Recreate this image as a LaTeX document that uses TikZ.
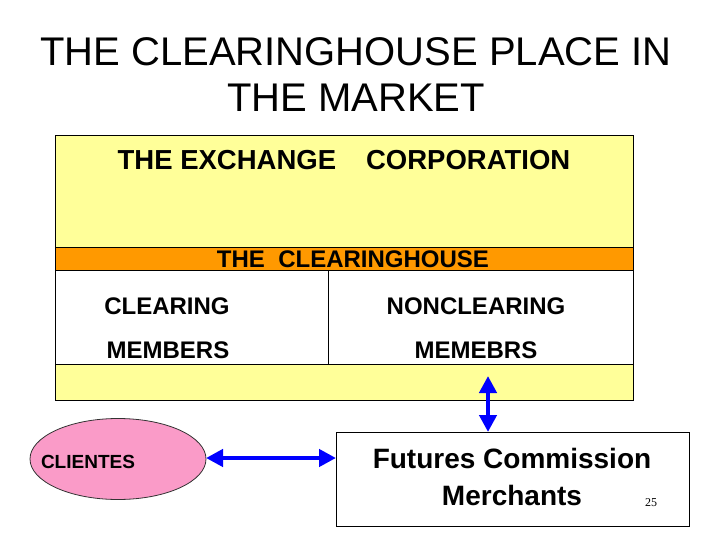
\documentclass[tikz,border=0pt]{standalone}
\usepackage{fontspec}
\setmainfont{Liberation Sans}
\newfontfamily\serifnum{Liberation Serif}
\usetikzlibrary{shapes.geometric,arrows.meta}
\definecolor{ylw}{RGB}{255,255,153}
\definecolor{org}{RGB}{255,153,0}
\definecolor{pnk}{RGB}{250,155,200}
\definecolor{arrblue}{RGB}{0,0,255}
\tikzset{
  box/.style={draw=black,line width=0.8pt,rectangle,inner sep=0pt,outer sep=0pt},
  big/.style={font=\bfseries\fontsize{24}{44}\selectfont,inner sep=0pt},
  dbl/.style={arrblue,line width=4.5pt,{Triangle[length=17pt,width=17pt]}-{Triangle[length=17pt,width=17pt]}}
}
\begin{document}
\begin{tikzpicture}[x=1pt,y=-1pt]
\useasboundingbox (0,0) rectangle (720,540);
% title
\node[font=\fontsize{40}{46}\selectfont,align=center,inner sep=0pt] (title) at (356,75) {THE CLEARINGHOUSE PLACE IN\\THE MARKET};
% exchange block
\node[box,fill=ylw,minimum width=578pt,minimum height=112pt] (exch) at (344,191) {};
\node[font=\bfseries\fontsize{27.5}{32}\selectfont,inner sep=0pt] (exchtxt) at (344,160) {THE EXCHANGE\hspace*{30pt}CORPORATION};
\node[box,fill=org,minimum width=578pt,minimum height=23pt] (ch) at (344,258.5) {};
\node[big] (chtxt) at (353,259) {THE\ \ CLEARINGHOUSE};
\node[box,fill=white,minimum width=273pt,minimum height=94pt] (lcell) at (191.5,317) {};
\node[box,fill=white,minimum width=305pt,minimum height=94pt] (rcell) at (480.5,317) {};
\node[big] (l1) at (167,306) {CLEARING};
\node[big] (l2) at (168,350) {MEMBERS};
\node[big] (r1) at (476,306) {NONCLEARING};
\node[big] (r2) at (476,350) {MEMEBRS};
\node[box,fill=ylw,minimum width=578pt,minimum height=36pt] (bot) at (344,382) {};
% clients
\node[ellipse,draw=black!80,line width=0.8pt,fill=pnk,minimum width=176pt,minimum height=81pt,inner sep=0pt] (cli) at (118,459) {};
\node[font=\bfseries\fontsize{19}{22}\selectfont,inner sep=0pt] (clitxt) at (88,462) {CLIENTES};
% FCM
\node[box,fill=white,minimum width=353pt,minimum height=94pt] (fcm) at (512.5,479) {};
\node[font=\bfseries\fontsize{28}{37}\selectfont,align=center,inner sep=0pt] (fcmtxt) at (512,477) {Futures Commission\\Merchants};
\node[font=\serifnum\fontsize{12}{14}\selectfont,inner sep=0pt] (pg) at (651,503) {25};
% arrows
\coordinate (vtop) at (488,376);
\draw[dbl] (vtop) -- (vtop |- fcm.north);
\coordinate (hl) at (206,458);
\draw[dbl] (hl) -- (hl -| fcm.west);
\end{tikzpicture}
\end{document}
